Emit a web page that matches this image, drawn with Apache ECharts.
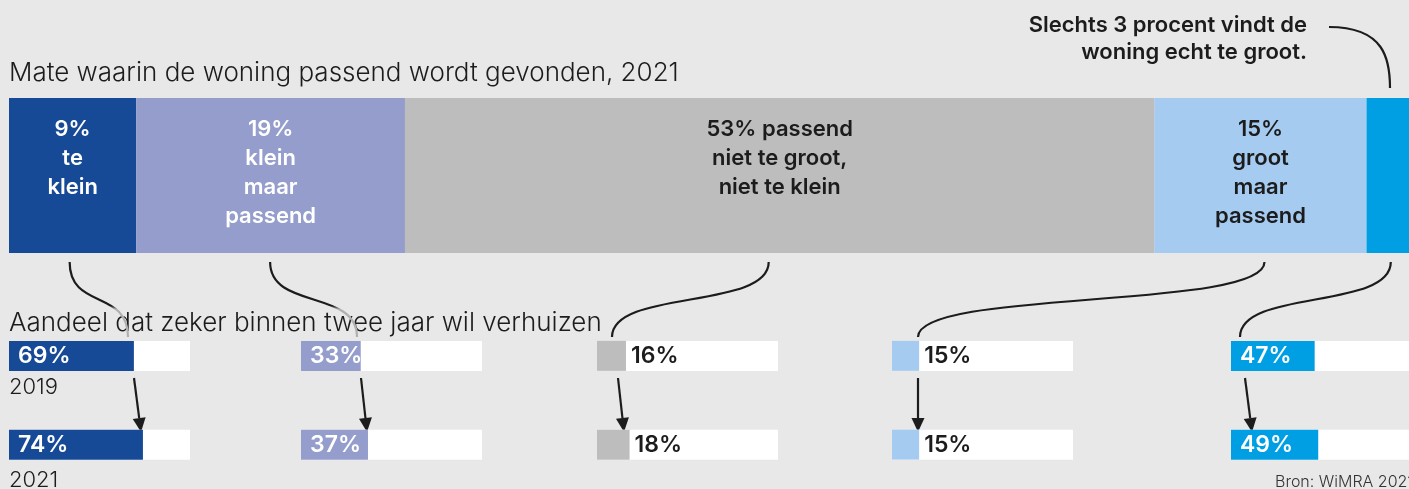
<!DOCTYPE html>
<html>
<head>
<meta charset="utf-8">
<script src="https://cdn.jsdelivr.net/npm/echarts@6/dist/echarts.min.js"></script>
<style>
html,body{margin:0;padding:0;background:#e8e8e8;}
#c{width:1409px;height:489px;}
</style>
</head>
<body>
<div id="c"></div>
<script>
// ---- data ----
const segments = ['te klein', 'klein maar passend', 'passend', 'groot maar passend', 'te groot'];
const share2021 = [9, 19, 53, 15, 3];
const segmentLabels = ['9%\nte\nklein', '19%\nklein\nmaar\npassend', '53% passend\nniet te groot,\nniet te klein', '15%\ngroot\nmaar\npassend', ''];
const years = ['2019', '2021'];
const move2019 = [69, 33, 16, 15, 47];
const move2021 = [74, 37, 18, 15, 49];

// ---- styling ----
const colors = ['#174a96', '#949dcb', '#bdbdbd', '#a5cbf1', '#009ee2'];
const labelColors = ['#ffffff', '#ffffff', '#1c1c1c', '#1c1c1c', '#ffffff'];
const smallInside = [true, true, false, false, true];
const groupX = [9, 301, 597, 892, 1231];
const FONT = 'Inter, "Open Sans", sans-serif';
const TXT = '#1c1c1c';

const chart = echarts.init(document.getElementById('c'), null, {renderer: 'canvas'});

const grids = [{left: 9, top: 98, width: 1400, height: 155}];
const xAxes = [{gridIndex: 0, type: 'value', min: 0, max: 99, show: false}];
const yAxes = [{gridIndex: 0, type: 'category', data: ['2021'], show: false}];
const series = [];

share2021.forEach((v, i) => {
  series.push({
    type: 'bar', name: segments[i], xAxisIndex: 0, yAxisIndex: 0, stack: 'top',
    barWidth: '100%', data: [v], silent: true,
    itemStyle: {color: colors[i]},
    label: {
      show: segmentLabels[i] !== '', position: 'insideTop', distance: 17,
      formatter: segmentLabels[i], color: labelColors[i], fontSize: 22, lineHeight: 29,
      fontWeight: 600, fontFamily: FONT, align: 'center'
    }
  });
});

groupX.forEach((gx, i) => {
  grids.push({left: gx, top: 311.5, width: 181, height: 186});
  xAxes.push({gridIndex: i + 1, type: 'value', min: 0, max: 100, show: false});
  yAxes.push({gridIndex: i + 1, type: 'category', data: years, inverse: true, show: false});
  series.push({
    type: 'bar', name: segments[i] + ' verhuizen', xAxisIndex: i + 1, yAxisIndex: i + 1,
    data: [move2019[i], move2021[i]], barWidth: 30, silent: true,
    showBackground: true, backgroundStyle: {color: '#ffffff'},
    itemStyle: {color: colors[i]},
    label: {
      show: true, position: smallInside[i] ? 'insideLeft' : 'right', distance: smallInside[i] ? 9 : 5,
      formatter: '{c}%', color: smallInside[i] ? '#ffffff' : TXT,
      fontSize: 23, fontWeight: 600, fontFamily: FONT
    }
  });
});

chart.setOption({
  backgroundColor: '#e8e8e8',
  animation: false,
  grid: grids, xAxis: xAxes, yAxis: yAxes, series: series
});

// ---- annotations ----
const g = [];
g.push({type: 'text', left: 9, top: 60, style: {text: 'Mate waarin de woning passend wordt gevonden, 2021', font: '300 26px ' + FONT, fill: TXT}});
g.push({type: 'text', left: 9, top: 310, style: {text: 'Aandeel dat zeker binnen twee jaar wil verhuizen', font: '300 26px ' + FONT, fill: TXT}});
g.push({type: 'text', left: 9, top: 376, style: {text: years[0], font: '300 22px ' + FONT, fill: TXT}});
g.push({type: 'text', left: 9, top: 469, style: {text: years[1], font: '300 22px ' + FONT, fill: TXT}});
g.push({type: 'text', left: 1275, top: 474, style: {text: 'Bron: WiMRA 2021', font: '300 16px ' + FONT, fill: '#333'}});
g.push({type: 'text', x: 1307, y: 12, style: {text: 'Slechts 3 procent vindt de\nwoning echt te groot.', font: '600 22px ' + FONT, lineHeight: 27, fill: TXT, textAlign: 'right'}});

// callout curve for top annotation
g.push({type: 'bezierCurve', shape: {x1: 1329, y1: 27, cpx1: 1385, cpy1: 27, cpx2: 1390, cpy2: 60, x2: 1390, y2: 88},
  style: {stroke: '#1c1c1c', lineWidth: 2.2, fill: null}});

// connectors from top segments to small bars
const topOffset = [-3, -0.5, -11, 4, 3];
const bottomX = [128, 357, 612, 918, 1240];
let cum = 0;
share2021.forEach((v, i) => {
  const cx = chart.convertToPixel({xAxisIndex: 0}, cum + v / 2);
  cum += v;
  const x1 = cx + topOffset[i];
  const y1 = 262, x2 = bottomX[i], y2 = 337;
  const fade = i < 2;
  g.push({type: 'bezierCurve', shape: {x1: x1, y1: y1, cpx1: x1, cpy1: y1 + 48, cpx2: x2, cpy2: y2 - 48, x2: x2, y2: y2},
    style: {
      fill: null, lineWidth: 2.2,
      stroke: fade ? new echarts.graphic.LinearGradient(0, 0, 0, 1, [
        {offset: 0, color: '#1c1c1c'}, {offset: 0.58, color: '#1c1c1c'},
        {offset: 0.62, color: '#b0b0b0'}, {offset: 1, color: '#b0b0b0'}]) : '#1c1c1c'
    }, z: 1});
});

// arrows 2019 -> 2021
const arrowTop = [[134, 378], [361, 378], [618, 378], [918, 378], [1245, 378]];
const arrowTip = [[141, 432], [367, 432], [624, 432], [918, 432], [1252, 432]];
arrowTop.forEach((p, i) => {
  const q = arrowTip[i];
  const dx = q[0] - p[0], dy = q[1] - p[1];
  const len = Math.sqrt(dx * dx + dy * dy);
  const ux = dx / len, uy = dy / len;
  const hl = 14, hw = 6.5;
  const bx = q[0] - ux * hl, by = q[1] - uy * hl;
  g.push({type: 'line', shape: {x1: p[0], y1: p[1], x2: bx, y2: by}, style: {stroke: '#1c1c1c', lineWidth: 2.2}});
  g.push({type: 'polygon', shape: {points: [[q[0], q[1]], [bx - uy * hw, by + ux * hw], [bx + uy * hw, by - ux * hw]]}, style: {fill: '#1c1c1c'}});
});

chart.setOption({graphic: g});
</script>
</body>
</html>
